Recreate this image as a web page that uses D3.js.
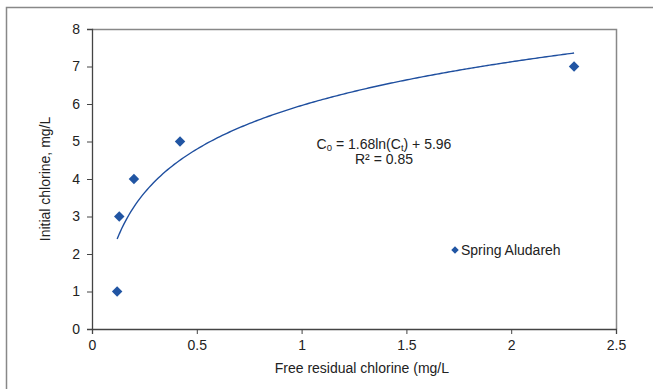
<!DOCTYPE html>
<html>
<head>
<meta charset="utf-8">
<script src="https://cdn.jsdelivr.net/npm/d3@7"></script>
<style>
  body { margin: 0; background: #fff; }
  text { font-family: "Liberation Sans", Arial, sans-serif; fill: #222; }
</style>
</head>
<body>
<svg id="chart"></svg>
<script>
// measured points
var freeChlorine = [0.12, 0.13, 0.2, 0.42, 2.3];
var initChlorine = [1, 3, 4, 5, 7];
var xTicks = [0, 0.5, 1, 1.5, 2, 2.5];
var yTicks = [0, 1, 2, 3, 4, 5, 6, 7, 8];
// log fit  C0 = a ln(Ct) + b
var fitA = 1.68, fitB = 5.96;

var W = 653, H = 389;
var margin = { top: 29, right: 37, bottom: 60, left: 92 },
  width = W - margin.left - margin.right,
  height = H - margin.top - margin.bottom;

var svg = d3.select("#chart").attr("width", W).attr("height", H);

// outer chart border
svg.append("rect")
  .attr("x", 6.5).attr("y", 7.5)
  .attr("width", W + 10).attr("height", H + 10)
  .attr("fill", "none").attr("stroke", "#888").attr("stroke-width", 1.5);

var g = svg.append("g")
  .attr("transform", "translate(" + margin.left + "," + margin.top + ")");

var x = d3.scaleLinear().domain([0, 2.5]).range([0, width]);
var y = d3.scaleLinear().domain([0, 8]).range([height, 0]);

// plot area frame (top/right)
g.append("path")
  .attr("d", "M0,0.5H" + (width + 0.5) + "V" + height)
  .attr("fill", "none").attr("stroke", "#888").attr("stroke-width", 1.5);

var xAxis = g.append("g")
  .attr("transform", "translate(0," + height + ")")
  .call(d3.axisBottom(x).tickValues(xTicks).tickSize(5).tickPadding(6).tickFormat(d3.format("")));
var yAxis = g.append("g")
  .call(d3.axisLeft(y).tickValues(yTicks).tickSize(5).tickPadding(7));

[xAxis, yAxis].forEach(function(a) {
  a.select(".domain").attr("stroke", "#444").attr("stroke-width", 1.3);
  a.selectAll(".tick line").attr("stroke", "#444");
  a.selectAll(".tick text").style("font-size", "14px").attr("fill", "#222")
    .style("font-family", "'Liberation Sans', Arial, sans-serif");
});

// trend line
var fitX = d3.range(0, 201).map(function(i) {
  return freeChlorine[0] + (freeChlorine[4] - freeChlorine[0]) * i / 200;
});
g.append("path")
  .datum(fitX)
  .attr("fill", "none").attr("stroke", "#1f4f9f").attr("stroke-width", 1.4)
  .attr("d", d3.line()
    .x(function(d) { return x(d); })
    .y(function(d) { return y(fitA * Math.log(d) + fitB); }));

var diamond = d3.symbol().type(d3.symbolDiamond2).size(70);

g.selectAll(".pt")
  .data(freeChlorine).enter()
  .append("path")
    .attr("class", "pt")
    .attr("d", diamond)
    .attr("transform", function(d, i) { return "translate(" + x(d) + "," + y(initChlorine[i]) + ")"; })
    .attr("fill", "#2155a3");

// equation
var eq = g.append("text").attr("text-anchor", "middle")
  .attr("x", 292).attr("y", 120).style("font-size", "14px");
eq.append("tspan").text("C");
eq.append("tspan").attr("dy", 2).style("font-size", "9.5px").text("0");
eq.append("tspan").attr("dy", -2).text(" = 1.68ln(C");
eq.append("tspan").attr("dy", 2).style("font-size", "9.5px").text("t");
eq.append("tspan").attr("dy", -2).text(") + 5.96");
g.append("text").attr("text-anchor", "middle")
  .attr("x", 292).attr("y", 135).style("font-size", "14px")
  .text("R\u00b2 = 0.85");

// legend
var leg = g.append("g").attr("transform", "translate(" + (455 - margin.left) + "," + (250 - margin.top) + ")");
leg.append("path").attr("d", d3.symbol().type(d3.symbolDiamond2).size(36))
  .attr("fill", "#2155a3");
leg.append("text").attr("x", 6).attr("y", 5).style("font-size", "14px").text("Spring Aludareh");

// axis titles
svg.append("text").attr("text-anchor", "middle")
  .attr("x", margin.left + width * 0.515).attr("y", 373)
  .style("font-size", "14px").text("Free residual chlorine (mg/L");
svg.append("text").attr("text-anchor", "middle")
  .attr("transform", "translate(50," + (margin.top + height * 0.5) + ") rotate(-90)")
  .style("font-size", "14px").text("Initial chlorine, mg/L");
</script>
</body>
</html>
